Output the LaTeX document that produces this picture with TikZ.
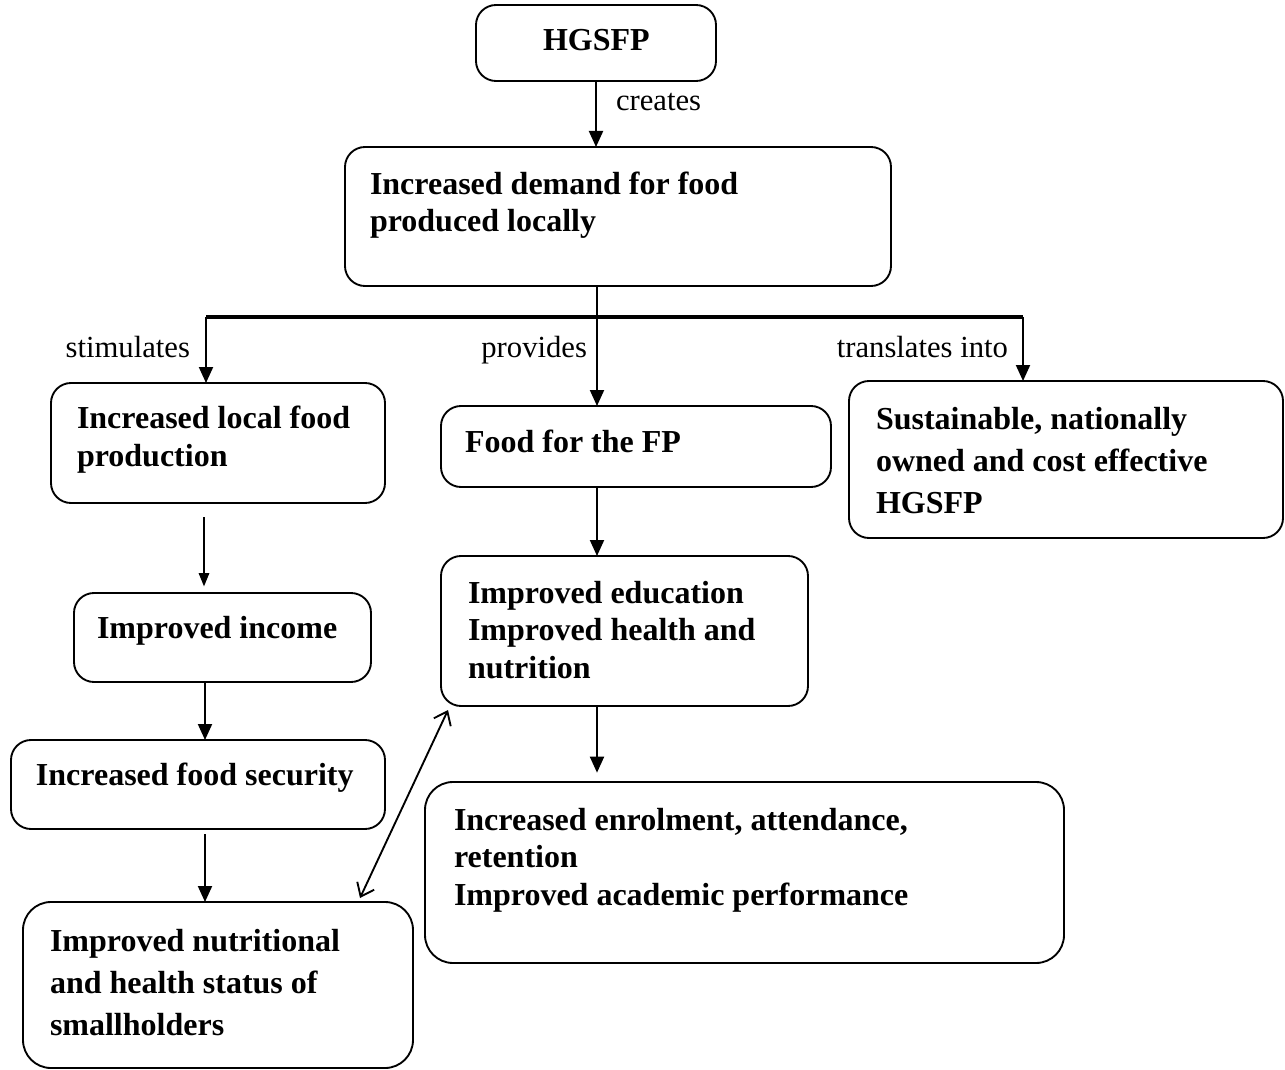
\documentclass[tikz,border=0pt]{standalone}
\usepackage{fontspec}
\setmainfont{Liberation Serif}
\usetikzlibrary{arrows.meta,fit}
\begin{document}
\begin{tikzpicture}[x=0.75pt,y=-0.75pt,
  box/.style={draw,line width=1.4pt,rounded corners=15pt,inner sep=0pt,outer sep=0pt},
  bigbox/.style={box,rounded corners=21pt},
  txt/.style={inner sep=0pt,outer sep=0pt,align=left,anchor=base west,
    font=\bfseries\fontsize{24}{28}\selectfont},
  lbl/.style={inner sep=0pt,outer sep=0pt,font=\fontsize{23}{26}\selectfont},
  arr/.style={line width=1.5pt,-{Triangle[length=12pt,width=10.5pt]}},
  thinarr/.style={line width=0.8pt,-{Triangle[length=10pt,width=8pt]}},
  dbl/.style={line width=1.4pt,{Straight Barb[length=9pt,width=14pt]}-{Straight Barb[length=9pt,width=14pt]}},
  barline/.style={line width=3pt}]
\useasboundingbox (0,0) rectangle (1285,1070);
% boxes
\node[box,fit={(476,5)(716,81)}] (hg) {};
\node[box,fit={(345,147)(891,286)}] (dem) {};
\node[box,fit={(51,383)(385,503)}] (loc) {};
\node[box,fit={(441,406)(831,487)}] (food) {};
\node[box,fit={(849,381)(1283,538)}] (sus) {};
\node[box,fit={(74,593)(371,682)}] (inc) {};
\node[box,fit={(11,740)(385,829)}] (sec) {};
\node[bigbox,fit={(23,902)(413,1068)}] (nut) {};
\node[box,fit={(441,556)(808,706)}] (edu) {};
\node[bigbox,fit={(425,782)(1064,963)}] (enr) {};
% texts (base anchor = baseline of the last line)
\node[txt] (thg) at (543,51) {HGSFP};
\node[txt] (tdem) at (370,232) {Increased demand for food\\produced locally};
\node[txt] (tloc) at (77,466) {Increased local food\\production};
\node[txt] (tfood) at (465,452) {Food for the FP};
\node[txt] (tsus) at (876,513) {Sustainable, nationally\\[3.5pt]owned and cost effective\\[3.5pt]HGSFP};
\node[txt] (tinc) at (97,638) {Improved income};
\node[txt] (tsec) at (36,785) {Increased food security};
\node[txt] (tnut) at (50,1035) {Improved nutritional\\[3.5pt]and health status of\\[3.5pt]smallholders};
\node[txt] (tedu) at (468,678) {Improved education\\Improved health and\\nutrition};
\node[txt] (tenr) at (454,905) {Increased enrolment, attendance,\\retention\\Improved academic performance};
% labels
\node[lbl,anchor=base west] (lcre) at (616,111) {creates};
\node[lbl,anchor=base east] (lsti) at (190,357) {stimulates};
\node[lbl,anchor=base east] (lpro) at (587,357) {provides};
\node[lbl,anchor=base east] (ltra) at (1008,357) {translates into};
% helper coordinates
\coordinate (bL) at (206,317);
\coordinate (bR) at (1023,317);
\coordinate (j) at (597,317);
\coordinate (t1) at (204,517);
\coordinate (lc) at (205,0);
\coordinate (d1) at (360,898);
\coordinate (d2) at (448,710);
% connectors
\draw[arr] (hg.south) -- (hg.south |- dem.north);
\draw[barline] (bL) -- (bR);
\draw[arr] (dem.south -| j) -- (food.north -| j);
\draw[arr] (bL) -- (bL |- loc.north);
\draw[arr] (bR) -- (bR |- sus.north);
\draw[thinarr,shorten >=5pt] (t1) -- (t1 |- inc.north);
\draw[arr] (inc.south -| lc) -- (sec.north -| lc);
\draw[arr,shorten <=4pt] (sec.south -| lc) -- (nut.north -| lc);
\draw[arr] (food.south -| j) -- (edu.north -| j);
\draw[arr,shorten >=7pt] (edu.south -| j) -- (enr.north -| j);
\draw[dbl] (d1) -- (d2);
\end{tikzpicture}
\end{document}
